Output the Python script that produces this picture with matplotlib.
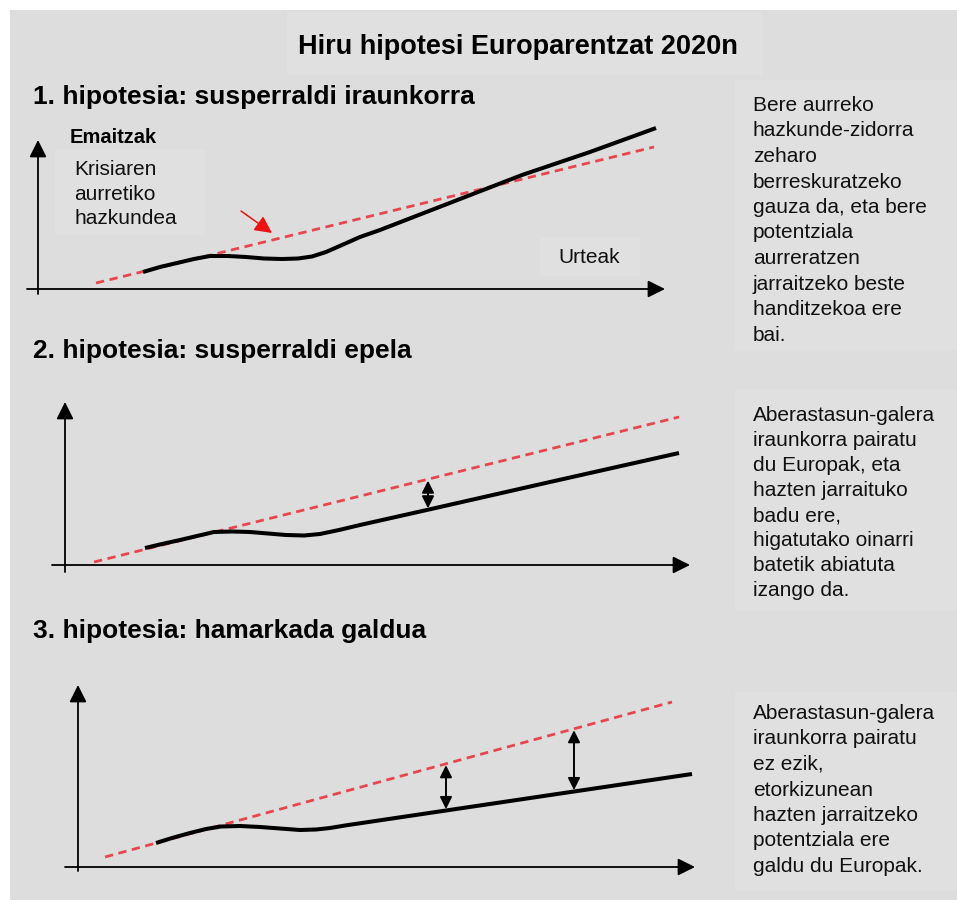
import numpy as np
import matplotlib
matplotlib.use('Agg')
import matplotlib.pyplot as plt
from matplotlib.patches import Rectangle

plt.rcParams['font.family'] = ['Liberation Sans', 'DejaVu Sans']

W, H = 957, 900

# --- texts ---
title = "Hiru hipotesi Europarentzat 2020n"
headings = ["1. hipotesia: susperraldi iraunkorra",
            "2. hipotesia: susperraldi epela",
            "3. hipotesia: hamarkada galdua"]
notes = [["Bere aurreko", "hazkunde-zidorra", "zeharo", "berreskuratzeko",
          "gauza da, eta bere", "potentziala", "aurreratzen",
          "jarraitzeko beste", "handitzekoa ere", "bai."],
         ["Aberastasun-galera", "iraunkorra pairatu", "du Europak, eta",
          "hazten jarraituko", "badu ere,", "higatutako oinarri",
          "batetik abiatuta", "izango da."],
         ["Aberastasun-galera", "iraunkorra pairatu", "ez ezik,",
          "etorkizunean", "hazten jarraitzeko", "potentziala ere",
          "galdu du Europak."]]
ylabel = "Emaitzak"
xlabel = "Urteak"
trend_label = "Krisiaren\naurretiko\nhazkundea"

# --- schematic series (x = years, y = output, arbitrary units) ---
trend1_x = [1.16, 12.32]
trend1_y = [0.6, 14.2]
path1_x = [2.10, 2.44, 2.78, 3.12, 3.44, 3.80, 4.16, 4.52, 4.88, 5.20, 5.48, 5.76,
           6.08, 6.44, 6.84, 7.64, 8.44, 9.68, 11.04, 12.36]
path1_y = [1.7, 2.2, 2.6, 3.0, 3.3, 3.3, 3.2, 3.05, 3.0, 3.05, 3.25, 3.7,
           4.4, 5.2, 5.9, 7.45, 9.0, 11.4, 13.7, 16.1]
gaps1 = []

trend2_x = [0.58, 12.28]
trend2_y = [0.3, 14.8]
path2_x = [1.60, 1.94, 2.30, 2.64, 2.98, 3.34, 3.70, 4.06, 4.42, 4.78, 5.10, 5.48,
           5.90, 7.28, 9.70, 12.28]
path2_y = [1.7, 2.1, 2.5, 2.9, 3.3, 3.35, 3.3, 3.15, 3.0, 2.95, 3.1, 3.5,
           4.0, 5.55, 8.3, 11.2]
gaps2 = [7.26]

trend3_x = [0.54, 11.88]
trend3_y = [1.0, 16.5]
path3_x = [1.56, 1.88, 2.24, 2.56, 2.86, 3.24, 3.64, 4.04, 4.44, 4.76, 5.04, 5.34,
           7.36, 9.92, 12.28]
path3_y = [2.4, 2.9, 3.4, 3.8, 4.05, 4.1, 4.0, 3.85, 3.7, 3.75, 3.9, 4.15,
           5.65, 7.55, 9.3]
gaps3 = [7.36, 9.92]

BG = '#dddddd'
BOX = '#e0e0e0'
RED = '#e8464f'

fig = plt.figure(figsize=(W / 100, H / 100), dpi=100)
fig.patch.set_facecolor('white')


def rect(x0, y0, x1, y1, color):
    fig.patches.append(Rectangle((x0 / W, 1 - y1 / H), (x1 - x0) / W, (y1 - y0) / H,
                                 transform=fig.transFigure, facecolor=color,
                                 edgecolor='none', zorder=-2))


def ftext(px, py, s, **kw):
    fig.text(px / W, 1 - py / H, s, va='baseline', ha='left', **kw)


rect(10, 10, W, H, BG)
rect(287, 12, 762, 75, BOX)
rect(735, 80, W, 350, BOX)
rect(735, 390, W, 610, BOX)
rect(735, 692, W, 890, BOX)
rect(55, 150, 205, 235, BOX)
rect(540, 238, 640, 276, BOX)

# titles
fig.text(518 / W, 1 - 54 / H, title, ha='center', va='baseline',
         fontsize=19.5, fontweight='bold')
for s, yb in zip(headings, [104, 358, 638]):
    ftext(33, yb, s, fontsize=19, fontweight='bold')

# side notes
for lines, y0, dy in zip(notes, [111, 421, 719], [25.5, 25.0, 25.5]):
    for i, s in enumerate(lines):
        ftext(753, y0 + i * dy, s, fontsize=15, color='#111111')

SX, SY = 50.0, 10.0  # pixels per data unit


def panel(ox, oy, box, xr, yr, tx, ty, px, py, gaps):
    left, right, top, bottom = box
    ax = fig.add_axes([left / W, 1 - bottom / H, (right - left) / W, (bottom - top) / H])
    ax.set_xlim((left - ox) / SX, (right - ox) / SX)
    ax.set_ylim((oy - bottom) / SY, (oy - top) / SY)
    ax.set_facecolor('none')
    ax.axis('off')
    head = dict(arrowstyle='-|>', mutation_scale=26, lw=1.3, color='black',
                shrinkA=0, shrinkB=0)
    ax.annotate('', xy=(xr[1], 0), xytext=(xr[0], 0), arrowprops=head)
    ax.annotate('', xy=(0, yr[1]), xytext=(0, yr[0]), arrowprops=head)
    red, = ax.plot(tx, ty, color=RED, lw=2.0)
    red.set_dashes([3, 2])
    ax.plot(px, py, color='black', lw=2.9, solid_joinstyle='round',
            solid_capstyle='butt')
    for g in gaps:
        y_lo = np.interp(g, px, py)
        y_hi = np.interp(g, tx, ty)
        ax.annotate('', xy=(g, y_hi), xytext=(g, y_lo),
                    arrowprops=dict(arrowstyle='<|-|>', mutation_scale=18, lw=1.4,
                                    color='black', shrinkA=1, shrinkB=1))
    return ax


ax1 = panel(38, 289, (15, 690, 125, 300), (-0.22, 12.54), (-0.5, 14.9),
            trend1_x, trend1_y, path1_x, path1_y, gaps1)
ax1.annotate('', xy=(4.68, 5.6), xytext=(4.06, 7.8),
             arrowprops=dict(arrowstyle='-|>', mutation_scale=26, lw=1.1,
                             color='#ee1111', shrinkA=0, shrinkB=0))
ax2 = panel(65, 565, (40, 700, 390, 580), (-0.26, 12.5), (-0.7, 16.3),
            trend2_x, trend2_y, path2_x, path2_y, gaps2)
ax3 = panel(78, 867, (50, 705, 672, 880), (-0.26, 12.34), (-0.4, 18.2),
            trend3_x, trend3_y, path3_x, path3_y, gaps3)

ftext(70, 143, ylabel, fontsize=14.5, fontweight='bold')
for i, s in enumerate(trend_label.split('\n')):
    ftext(74, 175 + i * 24.5, s, fontsize=15, color='#111111')
ftext(558, 263, xlabel, fontsize=15, color='#111111')

fig.savefig('out.png', dpi=100, facecolor=fig.get_facecolor())
